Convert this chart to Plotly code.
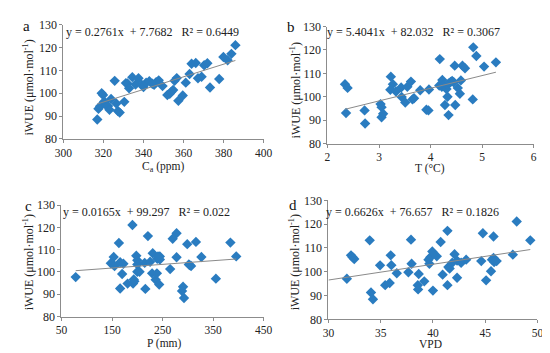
import plotly.graph_objects as go

# ---------------- data ----------------
ca = [316.9, 317.5, 318.3, 319.1, 319.8, 320.4, 321.4, 322.3, 323.0, 323.8,
      325.6, 326.4, 327.2, 328.1, 330.4, 331.2, 332.0, 332.8, 334.4, 336.0,
      337.5, 339.1, 340.0, 341.3, 342.9, 344.4, 345.3, 346.3, 347.6, 349.5,
      351.9, 353.1, 353.9, 354.8, 355.5, 356.6, 357.4, 359.6, 361.1, 363.0,
      364.0, 366.1, 367.2, 369.0, 370.3, 371.9, 373.2, 377.8, 379.9, 382.0,
      383.9, 385.9]
iwue_a = [88.5, 93.2, 94.3, 100.0, 99.2, 96.4, 94.6, 94.4, 92.7, 97.5,
          105.4, 95.5, 92.2, 91.5, 96.2, 104.4, 104.2, 102.1, 107.0, 103.8,
          106.5, 103.7, 102.7, 104.6, 105.2, 104.1, 103.7, 104.8, 105.6, 103.1,
          99.2, 99.7, 100.6, 101.4, 105.4, 106.6, 96.7, 99.0, 104.6, 108.4,
          112.9, 113.2, 106.5, 107.2, 112.2, 113.1, 102.5, 106.2, 115.8, 114.4,
          117.2, 121.0]

temp = [2.34, 2.39, 2.36, 2.72, 2.73, 3.03, 3.05, 3.05, 3.08, 3.23,
        3.27, 3.22, 3.33, 3.43, 3.44, 3.51, 3.55, 3.62, 3.65, 3.68,
        3.80, 3.92, 3.96, 3.97, 4.18, 4.17, 4.22, 4.23, 4.25, 4.28,
        4.31, 4.33, 4.36, 4.39, 4.42, 4.45, 4.28, 4.33, 4.35, 4.47,
        4.48, 4.53, 4.57, 4.59, 4.62, 4.67, 4.82, 4.83, 4.89, 5.04, 5.27]
iwue_b = [105.4, 103.8, 93.1, 94.2, 88.6, 96.9, 95.6, 91.3, 92.8, 108.6,
          105.4, 103.0, 102.3, 104.0, 99.9, 97.6, 104.3, 106.5, 98.9, 99.4,
          102.8, 94.5, 94.2, 103.1, 116.1, 104.8, 104.3, 107.2, 105.0, 104.2,
          103.3, 105.2, 105.8, 106.3, 106.8, 106.2, 96.5, 100.0, 92.2, 113.3,
          96.5, 103.8, 101.3, 107.0, 113.3, 112.2, 98.9, 121.1, 117.4, 112.9, 114.7]

precip = [78.1, 190.4, 221.0, 163.6, 153.3, 147.6, 152.0, 155.0, 166.0, 172.5,
          170.0, 166.0, 198.0, 200.0, 200.0, 200.0, 204.4, 180.8, 191.6, 194.2,
          193.0, 215.9, 214.6, 225.4, 230.5, 229.3, 236.3, 238.8, 243.3, 239.5,
          244.6, 244.6, 277.7, 270.0, 298.8, 316.0, 277.7, 326.8, 384.2, 395.7,
          265.0, 302.0, 306.4, 355.5, 290.5, 288.5, 292.4, 241.0, 303.5]
iwue_c = [97.7, 121.1, 116.1, 113.0, 106.7, 103.9, 103.4, 102.7, 104.4, 103.7,
          99.1, 92.6, 107.3, 105.3, 103.4, 100.1, 100.1, 94.8, 94.8, 95.8,
          96.6, 92.4, 104.1, 104.6, 108.4, 99.4, 96.5, 99.4, 94.4, 105.9,
          107.0, 105.6, 117.4, 114.9, 112.5, 113.5, 106.6, 106.7, 113.2, 107.0,
          101.3, 103.4, 102.7, 97.0, 93.4, 91.5, 88.3, 107.0, 103.1]

vpd = [31.76, 32.16, 32.31, 32.47, 33.95, 34.07, 34.26, 34.94, 35.43, 35.86,
       35.96, 36.02, 36.54, 37.65, 37.9, 37.96, 38.64, 38.55, 38.58, 39.17,
       39.57, 39.66, 39.75, 39.94, 40.37, 40.74, 41.39, 42.07, 41.48, 41.6,
       41.85, 42.31, 42.7, 43.18, 40.93, 42.31, 41.39, 40.0, 44.63, 44.78,
       45.8, 45.56, 45.09, 45.65, 45.8, 45.86, 46.1, 47.65, 48.02, 49.32]
iwue_d = [97.1, 106.9, 106.1, 105.4, 113.2, 91.3, 88.5, 102.7, 94.4, 95.3,
          106.9, 102.8, 99.4, 99.8, 113.5, 103.4, 99.1, 94.4, 92.6, 96.0,
          105.1, 103.4, 106.1, 108.5, 106.5, 112.5, 117.2, 107.4, 102.0, 101.4,
          103.8, 104.7, 103.8, 105.1, 98.8, 97.5, 94.4, 92.1, 104.5, 116.2,
          114.8, 100.2, 96.4, 105.1, 105.8, 104.1, 104.5, 107.2, 121.1, 113.2]

panel_letters = ["a", "b", "c", "d"]
x_titles = ["C<sub>a</sub> (ppm)", "T (°C)", "P (mm)", "VPD"]
y_title = "iWUE (μmol·mol<sup>-1</sup>)"
slopes = [0.2761, 5.4041, 0.0165, 0.6626]
intercepts = [7.7682, 82.032, 99.297, 76.657]
r2_labels = ["0.6449", "0.3067", "0.022", "0.1826"]
slope_labels = ["0.2761", "5.4041", "0.0165", "0.6626"]
intercept_labels = ["7.7682", "82.032", "99.297", "76.657"]
trend_start = [min(ca), min(temp), min(precip), 30]
trend_end = [max(ca), max(temp), max(precip), max(vpd)]
x_ranges = [[300, 400], [2, 6], [50, 450], [30, 50]]
x_dticks = [20, 1, 100, 5]
y_range = [80, 130]
y_dtick = 10

xs = [ca, temp, precip, vpd]
ys = [iwue_a, iwue_b, iwue_c, iwue_d]

# ---------------- layout geometry ----------------
W, H = 550, 353
# plot boxes in pixels (left, right, top, bottom)
boxes = [(48, 255, 10, 129), (321, 534, 12, 134), (46, 255, 198, 314), (322, 538, 193, 317)]
letter_pos = [(10, 11), (283, 12), (12, 199), (285, 198)]
ytitle_pos = [(12, 76), (288, 79), (12, 258), (287, 258)]
xtitle_pos = [(151, 158), (427, 160), (152, 342), (428, 343)]
eq_pos = [(140, 18), (410, 18), (134, 205), (409, 205)]

FONT = "Liberation Serif, Times New Roman, serif"
BLUE = "#2A7CC0"
AX = "#8C8C8C"

fig = go.Figure()
layout = dict(
    width=W, height=H, margin=dict(l=0, r=0, t=0, b=0),
    paper_bgcolor="white", plot_bgcolor="white", showlegend=False,
    font=dict(family=FONT, size=11, color="#222"),
)
annotations = []
for i in range(4):
    sx = "" if i == 0 else str(i + 1)
    L, R, T, B = boxes[i]
    layout["xaxis" + sx] = dict(
        domain=[L / W, R / W], range=x_ranges[i], dtick=x_dticks[i], tick0=x_ranges[i][0],
        anchor="y" + sx, showgrid=False, zeroline=False, showline=True, linecolor=AX,
        linewidth=1, ticks="outside", ticklen=3, tickcolor=AX,
        tickfont=dict(family=FONT, size=11.5, color="#222"),
    )
    layout["yaxis" + sx] = dict(
        domain=[1 - B / H, 1 - T / H], range=y_range, dtick=y_dtick, tick0=80,
        anchor="x" + sx, showgrid=False, zeroline=False, showline=True, linecolor=AX,
        linewidth=1, ticks="outside", ticklen=3, tickcolor=AX,
        tickfont=dict(family=FONT, size=12, color="#222"),
    )
    fig.add_trace(go.Scatter(
        x=xs[i], y=ys[i], mode="markers", xaxis="x" + sx, yaxis="y" + sx,
        marker=dict(symbol="diamond", size=8, color=BLUE, line=dict(width=0)),
    ))
    tx = [trend_start[i], trend_end[i]]
    ty = [slopes[i] * v + intercepts[i] for v in tx]
    fig.add_trace(go.Scatter(
        x=tx, y=ty, mode="lines", xaxis="x" + sx, yaxis="y" + sx,
        line=dict(color="#8A8A8A", width=1),
    ))
    # panel letter
    annotations.append(dict(
        text=panel_letters[i], x=letter_pos[i][0] / W, y=1 - letter_pos[i][1] / H,
        xref="paper", yref="paper", showarrow=False, xanchor="center", yanchor="middle",
        font=dict(family=FONT, size=15, color="#111"),
    ))
    # y title
    annotations.append(dict(
        text=y_title, x=ytitle_pos[i][0] / W, y=1 - ytitle_pos[i][1] / H,
        xref="paper", yref="paper", showarrow=False, textangle=-90,
        xanchor="center", yanchor="middle",
        font=dict(family=FONT, size=12, color="#222"),
    ))
    # x title
    annotations.append(dict(
        text=x_titles[i], x=xtitle_pos[i][0] / W, y=1 - xtitle_pos[i][1] / H,
        xref="paper", yref="paper", showarrow=False, xanchor="center", yanchor="middle",
        font=dict(family=FONT, size=11.5, color="#222"),
    ))
    # equation
    eq = ("y = " + slope_labels[i] + "x\u00a0 + " + intercept_labels[i]
          + "\u00a0\u00a0 R² = " + r2_labels[i])
    annotations.append(dict(
        text=eq, x=eq_pos[i][0] / W, y=1 - eq_pos[i][1] / H,
        xref="paper", yref="paper", showarrow=False, xanchor="center", yanchor="middle",
        font=dict(family=FONT, size=12, color="#222"),
    ))
layout["annotations"] = annotations
fig.update_layout(**layout)
fig.write_html("out.html")
